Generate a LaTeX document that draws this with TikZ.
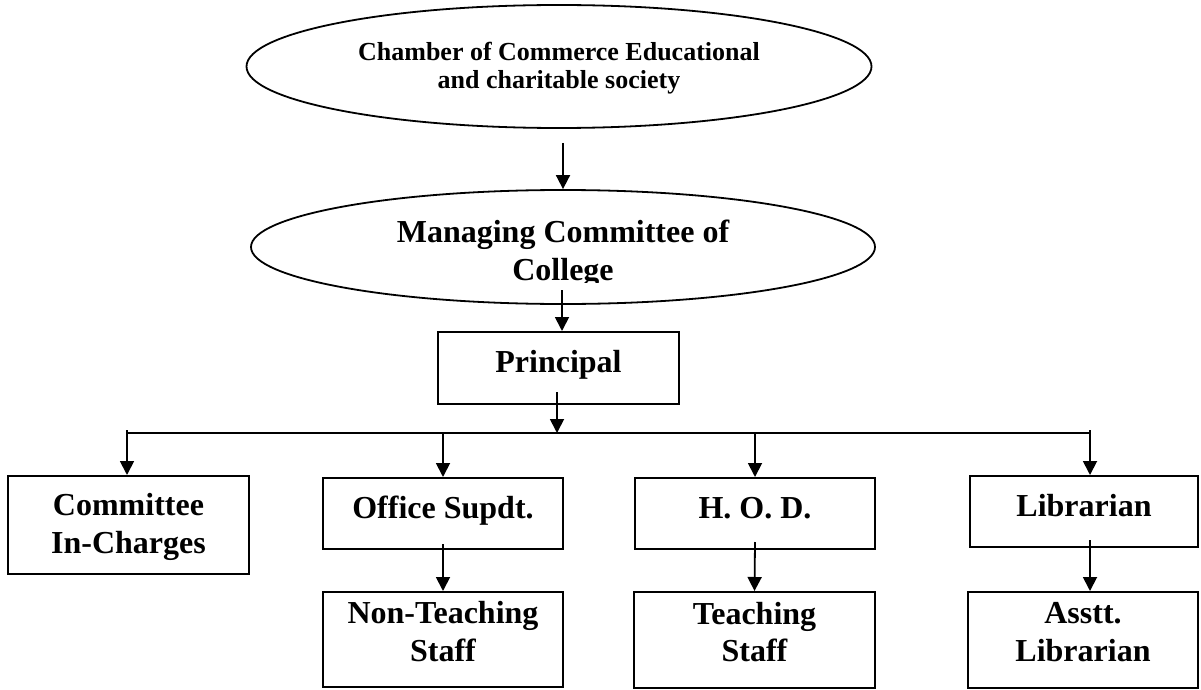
\documentclass[tikz,border=0pt]{standalone}
\usepackage{fontspec}
\setmainfont{Liberation Serif}
\usetikzlibrary{arrows.meta,shapes.geometric}
\begin{document}
\begin{tikzpicture}[x=1pt,y=-1pt,
  wire/.style={line width=1.8pt},
  arr/.style={line width=1.8pt,-{Triangle[width=14pt,length=14pt]}},
  oval/.style={draw,ellipse,line width=1.8pt,inner sep=0pt},
  bigtext/.style={font=\fontsize{32}{37.5}\selectfont\bfseries},
  box/.style={draw,rectangle,line width=2pt,inner sep=0pt,align=center,bigtext},
  onebox/.style={box,text height=22pt,text depth=13pt,minimum height=71pt},
  twobox/.style={box,text depth=16pt,minimum height=96pt},
]
\useasboundingbox (0,0) rectangle (1201,690);

% governing bodies
\node[oval,minimum width=625pt,minimum height=123pt,align=center,text depth=3pt,
      font=\fontsize{26}{28}\selectfont\bfseries] (soc) at (559,66.5)
  {Chamber of Commerce Educational\\and charitable society};
\node[oval,minimum width=624pt,minimum height=114pt] (mc) at (563,247) {};
\begin{scope}
  \clip (240,180) rectangle (890,282);
  \node[align=center,bigtext,text depth=0pt] (mctext) at (563,250.25)
    {Managing Committee of\\College};
\end{scope}

% principal and staff
\node[onebox,minimum width=241pt,minimum height=72pt] (pr) at (558.5,368) {Principal};
\node[box,text depth=3pt,minimum width=241pt,minimum height=98pt]
  (ci) at (128.5,525) {Committee\\In-Charges};
\node[onebox,minimum width=240pt] (os)  at (443,513.5) {Office Supdt.};
\node[onebox,minimum width=240pt] (hod) at (755,513.5) {H. O. D.};
\node[onebox,minimum width=228pt] (lib) at (1084,511.5) {Librarian};
\node[twobox,minimum width=240pt,minimum height=95pt] (nt) at (443,639.5) {Non-Teaching\\Staff};
\node[twobox,minimum width=241pt] (ts) at (754.5,640) {Teaching\\Staff};
\node[twobox,minimum width=230pt] (al) at (1083,640) {Asstt.\\Librarian};

% connector points
\coordinate (a2) at (562,290);
\coordinate (a3) at (557,392);
\coordinate (busL) at (127,433);
\coordinate (busR) at (1090,433);

% connectors
\draw[arr] ([yshift=-14pt]soc.south -| mc.north) -- (mc.north);
\draw[arr] (a2) -- (a2 |- pr.north);
\draw[arr] (a3) -- (a3 |- busL);
\draw[wire] ([xshift=-1pt]busL) -- ([xshift=1pt]busR);
\draw[arr] ([yshift=3pt]busL) -- (busL |- ci.north);
\draw[arr] (os.north |- busL) -- (os.north);
\draw[arr] (hod.north |- busL) -- (hod.north);
\draw[arr] ([yshift=3pt]busR) -- (busR |- lib.north);
\draw[arr] ([yshift=6pt]os.south) -- (nt.north);
\draw[arr] ([yshift=8pt]hod.south) -- (ts.north);
\draw[arr] ([yshift=8pt]lib.south -| busR) -- (busR |- al.north);
\end{tikzpicture}
\end{document}
